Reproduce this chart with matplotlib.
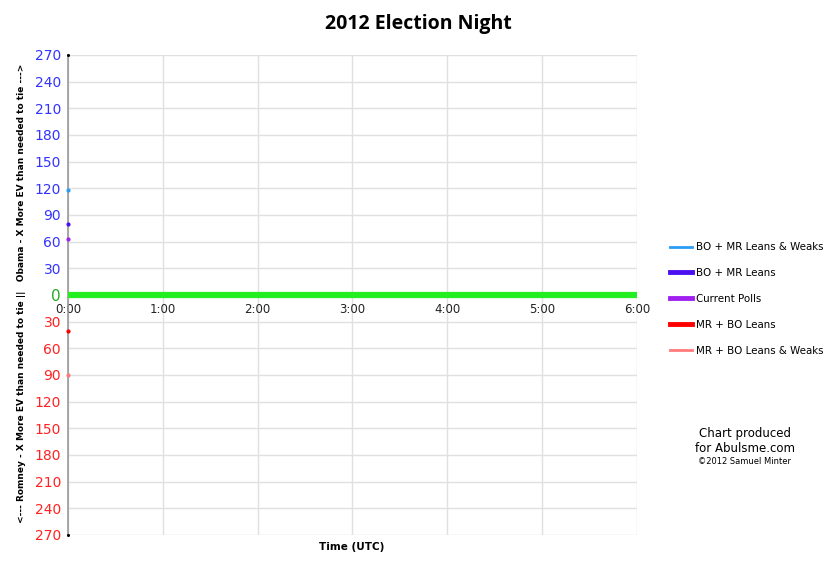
import matplotlib
matplotlib.use("Agg")
import matplotlib.pyplot as plt
from matplotlib.lines import Line2D
from matplotlib.ticker import FuncFormatter

# Data
hours = [0, 6]
hour_labels = ["0:00", "1:00", "2:00", "3:00", "4:00", "5:00", "6:00"]
tie_line = [0, 0]
series_names = ["BO + MR Leans & Weaks", "BO + MR Leans", "Current Polls",
                "MR + BO Leans", "MR + BO Leans & Weaks"]
series_values = [118, 80, 63, -41, -90]
series_colors = ["#2a9df4", "#4a10f0", "#a020f0", "#ff0000", "#ff7a7a"]
yticks = list(range(-270, 271, 30))

fig = plt.figure(figsize=(8.37, 5.67), dpi=100)
ax = fig.add_axes([68/837, 32/567, (637-68)/837, (535-55)/567])

ax.set_xlim(0, 6)
ax.set_ylim(-270, 270)

# grid
ax.set_yticks(yticks)
ax.set_xticks(range(7))
ax.set_xticklabels(hour_labels)
ax.grid(True, color="#e0e0e0", linewidth=1.0)
ax.set_axisbelow(True)

for s in ["top", "right"]:
    ax.spines[s].set_visible(False)
ax.spines["left"].set_color("#999999")
ax.spines["left"].set_linewidth(1.2)
ax.spines["bottom"].set_position(("data", 0))
ax.spines["bottom"].set_visible(False)
ax.tick_params(axis="both", length=0)
ax.tick_params(axis="x", colors="#222222", labelsize=8.5, pad=6)
ax.tick_params(axis="y", labelsize=10, pad=5)
ax.yaxis.set_major_formatter(FuncFormatter(lambda v, p: f"{abs(int(v))}"))
for lab, v in zip(ax.get_yticklabels(), yticks):
    if v > 0:
        lab.set_color("#3333ff")
    elif v < 0:
        lab.set_color("#ff2222")
    else:
        lab.set_color("#22aa22")
        lab.set_fontsize(11)

# tie line
ax.plot(hours, tie_line, color="#22ee22", linewidth=4.5, solid_capstyle="butt", zorder=3, clip_on=False)

# points
for name, val, col in zip(series_names, series_values, series_colors):
    ax.plot([0], [val], marker="o", markersize=2.0, color=col, linestyle="none", zorder=4, clip_on=False)

ax.plot([0, 0], [270, -270], marker="o", markersize=1.2, color="black", linestyle="none", clip_on=False, zorder=5)

handles = [Line2D([0], [0], color=c, linewidth=3.5 if i in (1, 2, 3) else 2) for i, c in enumerate(series_colors)]
fig.legend(handles, series_names, loc="upper left", bbox_to_anchor=(666/837, 1 - 238/567),
           frameon=False, fontsize=7.4, handlelength=2.1, handletextpad=0.45, labelspacing=1.55,
           borderaxespad=0)

fig.text(352/837, 1 - 547/567, "Time (UTC)", ha="center", va="center", fontsize=7.5, fontweight="bold")
fig.text(22/837, 1 - 293/567,
         "<--- Romney - X More EV than needed to tie ||   Obama - X More EV than needed to tie --->",
         rotation=90, ha="center", va="center", fontsize=6.5, fontweight="bold")
fig.text(418/837, 1 - 24/567, "2012 Election Night", ha="center", va="center",
         fontsize=14, fontweight="bold", family="Open Sans")

fig.text(745/837, 1 - 433/567, "Chart produced", ha="center", va="center", fontsize=8.5)
fig.text(745/837, 1 - 448/567, "for Abulsme.com", ha="center", va="center", fontsize=8.5)
fig.text(745/837, 1 - 462/567, "\u00a92012 Samuel Minter", ha="center", va="center", fontsize=6)

fig.savefig("out.png", dpi=100)
